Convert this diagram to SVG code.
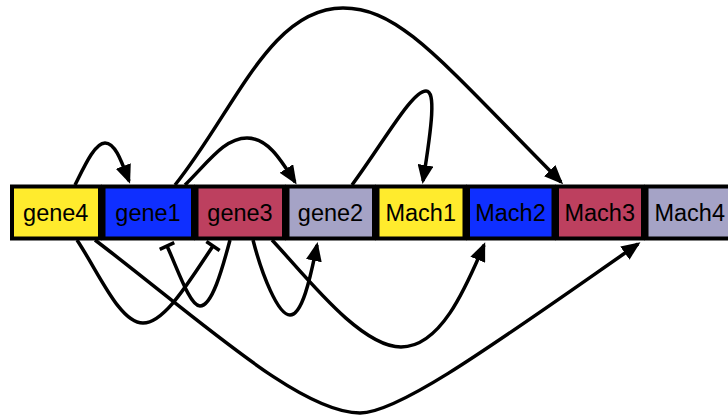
<svg xmlns="http://www.w3.org/2000/svg" width="728" height="416" viewBox="0 0 728 416">
  <style>
    .box { stroke: #000; stroke-width: 4; }
    .lbl { font-family: "Liberation Sans", Arial, Helvetica, sans-serif; font-size: 23.5px; fill: #000; text-anchor: middle; }
    .edge { fill: none; stroke: #000; stroke-width: 3.5; }
    .act { marker-end: url(#arrow); }
    .inh { marker-end: url(#tee); }
    .yellow { fill: #FFEB2D; }
    .blue { fill: #0F2FFF; }
    .red { fill: #BD405F; }
    .lav { fill: #A5A3C6; }
  </style>
  <defs>
    <marker id="arrow" viewBox="0 0 19 16" markerWidth="19" markerHeight="16" refX="16" refY="8" orient="auto" markerUnits="userSpaceOnUse">
      <path d="M0,0 L19,8 L0,16 z" fill="#000"/>
    </marker>
    <marker id="tee" viewBox="0 0 6 18" markerWidth="6" markerHeight="18" refX="3" refY="9" orient="auto" markerUnits="userSpaceOnUse">
      <rect x="1.2" y="1" width="3.6" height="16" fill="#000"/>
    </marker>
  </defs>

  <!-- gene / machine boxes in a row -->
  <g id="gene4"><rect class="box yellow" x="12" y="186.5" width="88" height="52"/><text class="lbl" x="55.75" y="221">gene4</text></g>
  <g id="gene1"><rect class="box blue" x="103.5" y="186.5" width="89.5" height="52"/><text class="lbl" x="148" y="221">gene1</text></g>
  <g id="gene3"><rect class="box red" x="196.5" y="186.5" width="87.5" height="52"/><text class="lbl" x="240" y="221">gene3</text></g>
  <g id="gene2"><rect class="box lav" x="287.5" y="186.5" width="86.5" height="52"/><text class="lbl" x="330.5" y="221">gene2</text></g>
  <g id="Mach1"><rect class="box yellow" x="377.5" y="186.5" width="87" height="52"/><text class="lbl" x="420.75" y="221">Mach1</text></g>
  <g id="Mach2"><rect class="box blue" x="468" y="186.5" width="85.5" height="52"/><text class="lbl" x="510.5" y="221">Mach2</text></g>
  <g id="Mach3"><rect class="box red" x="557" y="186.5" width="86" height="52"/><text class="lbl" x="599.75" y="221">Mach3</text></g>
  <g id="Mach4"><rect class="box lav" x="646.5" y="186.5" width="86.5" height="52"/><text class="lbl" x="689.75" y="221">Mach4</text></g>

  <!-- regulatory connections -->
  <g id="connectors">
    <path class="edge act" d="M75,185 C85,165 95,143 105,143 C115,143 121,160 129,181"/>
    <path class="edge act" d="M175,185 C235,110 270,8 343,8 C400,8 440,60 561,182"/>
    <path class="edge act" d="M185,185 C210,160 225,138 247,138 C268,138 281,160 295,182"/>
    <path class="edge act" d="M352,185 C385,140 412,91 426,91 C436,91 432,125 423,181"/>
    <path class="edge inh" d="M77,240 C100,275 120,323 143,323 C165,323 190,280 213,246"/>
    <path class="edge inh" d="M230,240 C222,270 212,306 200,306 C190,306 178,270 167,246"/>
    <path class="edge act" d="M253,240 C262,275 278,315 290,315 C302,315 310,280 317,245"/>
    <path class="edge act" d="M272,240 C305,275 360,347 401,347 C440,347 465,290 484,245"/>
    <path class="edge act" d="M95,240 C200,320 300,413 360,413 C400,413 500,340 638,244"/>
  </g>
</svg>
